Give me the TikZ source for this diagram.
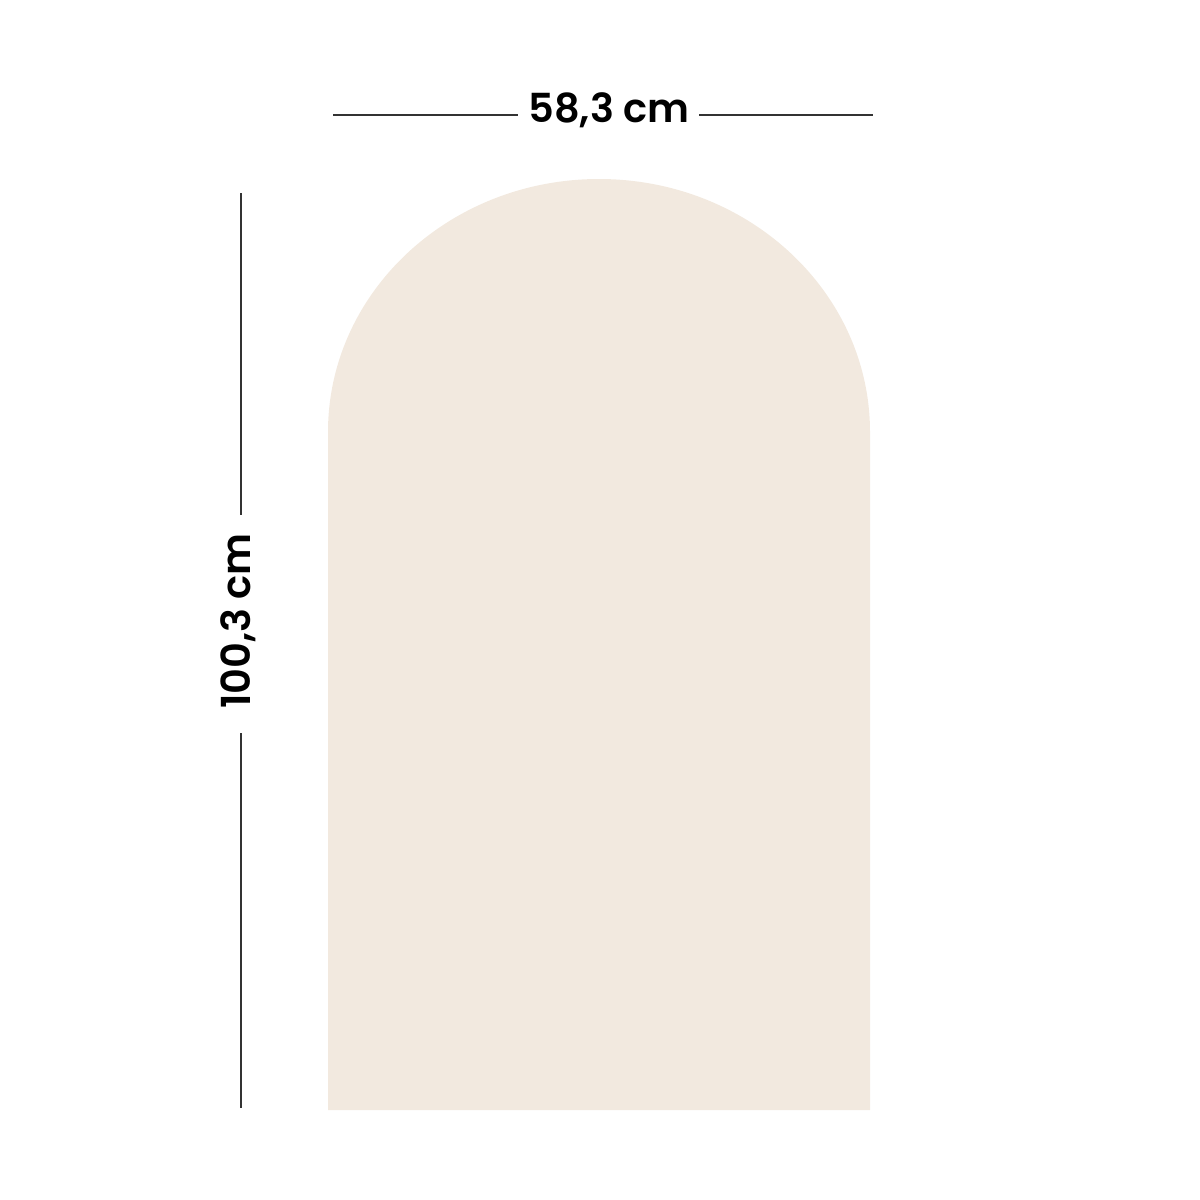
\documentclass[tikz,border=0pt]{standalone}
\usepackage{fontspec}
\IfFontExistsTF{Poppins SemiBold}{\setmainfont{Poppins SemiBold}\def\dimweight{}}{\setmainfont{Poppins}\def\dimweight{\bfseries}}
\definecolor{archfill}{HTML}{F2E9DF}
\definecolor{dimline}{HTML}{333333}
\tikzset{
  dimlabel/.style={inner sep=0pt, font=\fontsize{20pt}{24pt}\selectfont\dimweight, text=black},
  dimrule/.style={draw=dimline, line width=0.55pt}
}
\begin{document}
\begin{tikzpicture}[x=0.5pt,y=-0.5pt]
\useasboundingbox (0,0) rectangle (1200,1200);
\fill[archfill] (328,1110) -- (328,432) arc[start angle=180,end angle=360,x radius=271,y radius=253] -- (870,1110) -- cycle;
% width dimension
\node[dimlabel] (w) at (609,110) {58,3 cm};
\coordinate (wl1) at (333,115);
\coordinate (wl2) at (518,115);
\coordinate (wr1) at (699,115);
\coordinate (wr2) at (873,115);
\draw[dimrule] (wl1) -- (wl2);
\draw[dimrule] (wr1) -- (wr2);
% height dimension
\node[dimlabel, rotate=90] (h) at (238,621) {100,3 cm};
\coordinate (ht1) at (241,193);
\coordinate (ht2) at (241,515);
\coordinate (hb1) at (241,733);
\coordinate (hb2) at (241,1108);
\draw[dimrule] (ht1) -- (ht2);
\draw[dimrule] (hb1) -- (hb2);
\end{tikzpicture}
\end{document}
